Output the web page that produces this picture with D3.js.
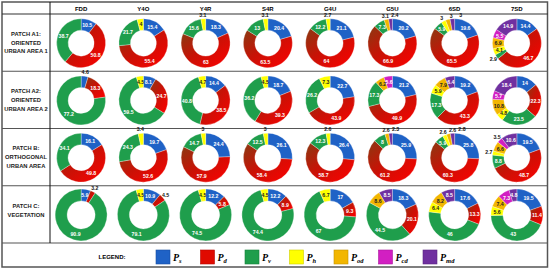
<!DOCTYPE html>
<html>
<head>
<meta charset="utf-8">
<script src="https://cdn.jsdelivr.net/npm/d3@7"></script>
<style>
  body { margin: 0; background: #fff; }
  svg { display: block; font-family: "Liberation Sans", Arial, sans-serif; }
</style>
</head>
<body>
<svg id="chart" width="550" height="271"></svg>
<script>
const columns = ["FDD", "Y4O", "Y4R", "S4R", "G4U", "G5U", "6SD", "7SD"];
const rows = ["A1", "A2", "B", "C"];
const rowLabels = [
  ["PATCH A1:", "ORIENTED", "URBAN AREA 1"],
  ["PATCH A2:", "ORIENTED", "URBAN AREA 2"],
  ["PATCH B:", "ORTHOGONAL", "URBAN AREA"],
  ["PATCH C:", "VEGETATION"]
];
const keys = ["Ps", "Pd", "Pv", "Ph", "Pod", "Pcd", "Pmd"];
const subs = ["s", "d", "v", "h", "od", "cd", "md"];
const colors = ["#1f62c6", "url(#gradPd)", "#1f9e4c", "#ffff00", "#f2b600", "#d21fc2", "#7030a0"];
const legendColors = ["#1f62c6", "#e00a00", "#1f9e4c", "#ffff00", "#f2b600", "#d21fc2", "#7030a0"];

// values per column, in key order: Ps, Pd, Pv, Ph, Pod, Pcd, Pmd
const patchA1 = [
  [10.5, 50.8, 38.7, 0, 0, 0, 0],
  [15.4, 55.4, 21.7, 4, 0, 0, 0],
  [18.3, 63, 15.6, 3.1, 0, 0, 0],
  [20.4, 63.5, 13, 3.1, 0, 0, 0],
  [21.1, 64, 12.2, 2.7, 0, 0, 0],
  [20.2, 66.9, 7.3, 0, 3.1, 0, 2.4],
  [19.6, 65.5, 5.9, 3, 3, 0, 3],
  [14.4, 46.7, 2.9, 4.1, 6.9, 5.5, 14.9]
];
const patchA2 = [
  [4.6, 18.3, 77.2, 0, 0, 0, 0],
  [8.1, 24.7, 59.5, 4.5, 0, 0, 0],
  [14.4, 38.5, 40.8, 4.7, 0, 0, 0],
  [18.7, 39.3, 36.2, 4.5, 0, 0, 0],
  [22.7, 43.9, 26.2, 7.3, 0, 0, 0],
  [21.2, 49.9, 17.3, 0, 6.2, 5.6, 0],
  [19.2, 43.3, 17.3, 5.9, 7.9, 0, 6.4],
  [14, 22.3, 23.5, 4.8, 10.8, 5.7, 18.4]
];
const patchB = [
  [16.1, 49.8, 34.1, 0, 0, 0, 0],
  [19.7, 52.6, 24.3, 3.4, 0, 0, 0],
  [24.4, 57.9, 14.7, 3, 0, 0, 0],
  [26.1, 58.4, 12.5, 3, 0, 0, 0],
  [26.4, 58.7, 12.3, 2.6, 0, 0, 0],
  [25.9, 61.2, 8, 0, 2.6, 0, 2.3],
  [25.8, 60.3, 5.9, 2.6, 2.6, 0, 2.8],
  [19.5, 48.7, 8.8, 2.7, 6.6, 3.5, 10.6]
];
const patchC = [
  [5.9, 3.2, 90.9, 0, 0, 0, 0],
  [10.9, 4.5, 79.1, 4.5, 0, 0, 0],
  [12.2, 5.8, 74.5, 4.5, 0, 0, 0],
  [12.2, 8.9, 74.4, 4.5, 0, 0, 0],
  [17, 9.3, 67, 6.7, 0, 0, 0],
  [18.3, 20.1, 44.5, 0, 8.6, 0, 8.5],
  [17.6, 13.3, 46, 6.4, 8.2, 0, 8.5],
  [19.5, 11.4, 43, 5.6, 7.4, 7.3, 4.8]
];
const patches = [patchA1, patchA2, patchB, patchC];

const svg = d3.select("#chart");

// gradient for the Pd slices (red fading to brown)
const defs = svg.append("defs");
const grad = defs.append("linearGradient")
  .attr("id", "gradPd")
  .attr("x1", 0).attr("y1", 0).attr("x2", 1).attr("y2", 1);
grad.append("stop").attr("offset", 0).attr("stop-color", "#8a3a12");
grad.append("stop").attr("offset", 0.45).attr("stop-color", "#c81206");
grad.append("stop").attr("offset", 1).attr("stop-color", "#ff0000");

const x = d3.scaleBand().domain(columns).range([50, 548]);
const y = d3.scaleBand().domain(rows).range([14, 243]);

// table frame
svg.append("rect")
  .attr("x", 2).attr("y", 2).attr("width", 545.5).attr("height", 265)
  .attr("fill", "none").attr("stroke", "#555").attr("stroke-width", 1.5);
svg.append("line")
  .attr("x1", 2).attr("x2", 548).attr("y1", 14).attr("y2", 14)
  .attr("stroke", "#333").attr("stroke-width", 1.2);
svg.selectAll(".rowline")
  .data(rows.slice(1).concat(["end"]))
  .join("line")
    .attr("x1", 2).attr("x2", 548)
    .attr("y1", (d, i) => 14 + (i + 1) * y.step())
    .attr("y2", (d, i) => 14 + (i + 1) * y.step())
    .attr("stroke", "#555").attr("stroke-width", 1.2);
svg.append("line")
  .attr("x1", 50).attr("x2", 50).attr("y1", 2).attr("y2", 243)
  .attr("stroke", "#111").attr("stroke-width", 1);

// column headers
svg.selectAll(".colhead")
  .data(columns)
  .join("text")
    .attr("x", (d) => x(d) + x.bandwidth() / 2)
    .attr("y", 10.5)
    .attr("text-anchor", "middle")
    .attr("font-size", "6px")
    .attr("font-weight", "bold")
    .text((d) => d);

// row headers
rows.forEach((r, ri) => {
  const lines = rowLabels[ri];
  const cy = y(r) + y.bandwidth() / 2 - (ri === 3 ? 4 : 0);
  svg.append("text")
    .attr("text-anchor", "middle")
    .attr("font-size", "5.8px")
    .attr("font-weight", "bold")
    .attr("fill", "#222")
    .selectAll("tspan")
    .data(lines)
    .join("tspan")
      .attr("x", 26)
      .attr("y", (d, i) => cy + 2 + (i - (lines.length - 1) / 2) * 8.7)
      .text((d) => d);
});

const pie = d3.pie().sort(null).value((d) => d.v);
const fmt = (v) => String(v);

rows.forEach((r, ri) => {
  const rOut = ri === 3 ? 26 : 24.5;
  const rIn = ri === 3 ? 14 : 13;
  const arc = d3.arc().innerRadius(rIn).outerRadius(rOut);
  const labelArc = d3.arc().innerRadius((rIn + rOut) / 2).outerRadius((rIn + rOut) / 2);
  const outArc = d3.arc().innerRadius(rOut + 4).outerRadius(rOut + 4);

  columns.forEach((c, ci) => {
    const vals = patches[ri][ci];
    const slices = keys.map((k, i) => ({ key: k, i: i, v: vals[i] })).filter((d) => d.v > 0);
    const cx = x(c) + x.bandwidth() / 2;
    const cy = y(r) + y.bandwidth() / 2 + 0.5;
    const g = svg.append("g").attr("transform", `translate(${cx},${cy})`);
    const arcs = pie(slices);

    g.selectAll("path")
      .data(arcs)
      .join("path")
        .attr("d", arc)
        .attr("fill", (d) => colors[d.data.i])
        .attr("stroke", "#fff")
        .attr("stroke-width", 0.3);

    const isOut = (d) => d.data.v < 3.6 || (d.data.v < 5 && (d.data.key === "Ps" || d.data.key === "Pd"));

    // outside labels, nudged apart
    const outs = arcs.filter(isOut).map((d) => {
      const p = outArc.centroid(d);
      return { d: d, x: p[0], y: p[1] + 2 };
    });
    outs.sort((a, b) => a.x - b.x);
    for (let k = 1; k < outs.length; k++) {
      if (outs[k].x - outs[k - 1].x < 9.5 && Math.abs(outs[k].y - outs[k - 1].y) < 6) {
        outs[k].x = outs[k - 1].x + 9.5;
      }
    }
    g.selectAll(".out")
      .data(outs)
      .join("text")
        .attr("x", (o) => o.x)
        .attr("y", (o) => o.y)
        .attr("text-anchor", "middle")
        .attr("font-size", "5.2px")
        .attr("font-weight", "bold")
        .attr("fill", "#111")
        .text((o) => fmt(o.d.data.v));

    g.selectAll(".in")
      .data(arcs.filter((d) => !isOut(d)))
      .join("text")
        .attr("transform", (d) => `translate(${labelArc.centroid(d)})`)
        .attr("dy", "0.35em")
        .attr("text-anchor", "middle")
        .attr("font-size", "5.2px")
        .attr("font-weight", "bold")
        .attr("fill", (d) => (d.data.key === "Ph" || d.data.key === "Pod") ? "#222" : "#fff")
        .text((d) => fmt(d.data.v));
  });
});

// legend
svg.append("text")
  .attr("x", 112).attr("y", 259)
  .attr("text-anchor", "middle")
  .attr("font-size", "6px")
  .attr("font-weight", "bold")
  .text("LEGEND:");

const lx = d3.scaleBand().domain(keys).range([156, 467.5]);
const lg = svg.selectAll(".leg")
  .data(keys)
  .join("g")
    .attr("transform", (d) => `translate(${lx(d)},250)`);
lg.append("rect")
  .attr("width", 14).attr("height", 14)
  .attr("fill", (d, i) => legendColors[i])
  .attr("stroke", (d, i) => d3.color(legendColors[i]).darker(0.6))
  .attr("stroke-width", 0.6);
const lt = lg.append("text")
  .attr("x", 17).attr("y", 10.5)
  .attr("font-family", "'Liberation Serif', 'DejaVu Serif', serif")
  .attr("font-style", "italic")
  .attr("font-weight", "bold")
  .attr("font-size", "10px");
lt.append("tspan").text("P");
lt.append("tspan")
  .attr("font-size", "6.5px")
  .attr("dy", 2)
  .text((d, i) => subs[i]);
</script>
</body>
</html>
